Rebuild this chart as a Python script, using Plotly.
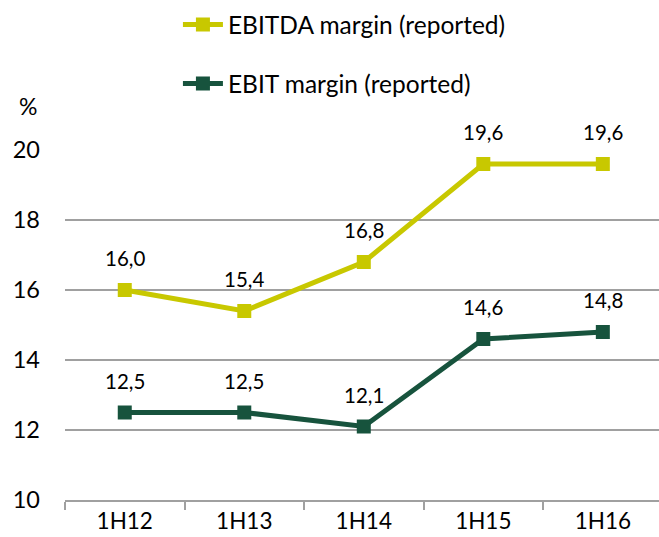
import plotly.graph_objects as go

categories = ["1H12", "1H13", "1H14", "1H15", "1H16"]
ebitda = [16.0, 15.4, 16.8, 19.6, 19.6]
ebit = [12.5, 12.5, 12.1, 14.6, 14.8]
y_ticks = [10, 12, 14, 16, 18, 20]

FONT = "Lato"
C_EBITDA = "#C8C800"
C_EBIT = "#17533D"

def fmt(v):
    return f"{v:.1f}".replace(".", ",")

fig = go.Figure()
fig.add_trace(go.Scatter(
    x=categories, y=ebitda, mode="lines+markers", name="EBITDA margin (reported)",
    line=dict(color=C_EBITDA, width=5), marker=dict(symbol="square", size=14, color=C_EBITDA),
    legendgroup="a", cliponaxis=False))
fig.add_trace(go.Scatter(
    x=categories, y=ebit, mode="lines+markers", name="EBIT margin (reported)",
    line=dict(color=C_EBIT, width=5), marker=dict(symbol="square", size=14, color=C_EBIT),
    legendgroup="b", cliponaxis=False))

anns = []
for series in (ebitda, ebit):
    for c, v in zip(categories, series):
        anns.append(dict(x=c, y=v, text=fmt(v), showarrow=False, yshift=32,
                         font=dict(family=FONT, size=20.5, color="#000")))
anns.append(dict(xref="paper", yref="paper", x=-0.062, y=1.126, xanchor="center", yanchor="middle",
                 text="%", showarrow=False, font=dict(family=FONT, size=23, color="#000")))

fig.update_layout(
    width=659, height=537,
    margin=dict(l=65, r=0, t=150, b=37, autoexpand=False),
    paper_bgcolor="white", plot_bgcolor="white",
    font=dict(family=FONT, size=19, color="#000"),
    showlegend=True,
    legend=dict(xref="container", yref="container", x=0.27, y=0.996,
                xanchor="left", yanchor="top",
                font=dict(family=FONT, size=24.5, color="#000"),
                tracegroupgap=24, bgcolor="rgba(0,0,0,0)", itemwidth=40),
    annotations=anns,
    xaxis=dict(type="category", range=[-0.5, 4.47], showgrid=False,
               showline=True, linecolor="#A0A0A0", linewidth=1.5,
               ticks="outside", tickson="boundaries", ticklen=8, tickcolor="#A0A0A0",
               tickwidth=1.5, tickfont=dict(family=FONT, size=22.5)),
    yaxis=dict(range=[10, 20], tickvals=y_ticks, showgrid=True, gridcolor="#A0A0A0",
               gridwidth=1.5, zeroline=False, showline=False, ticks="",
               ticklabelstandoff=24, tickfont=dict(family=FONT, size=23.5)),
)
fig.write_html("out.html", config={"displayModeBar": False},
               post_script="document.body.style.margin='0';")
